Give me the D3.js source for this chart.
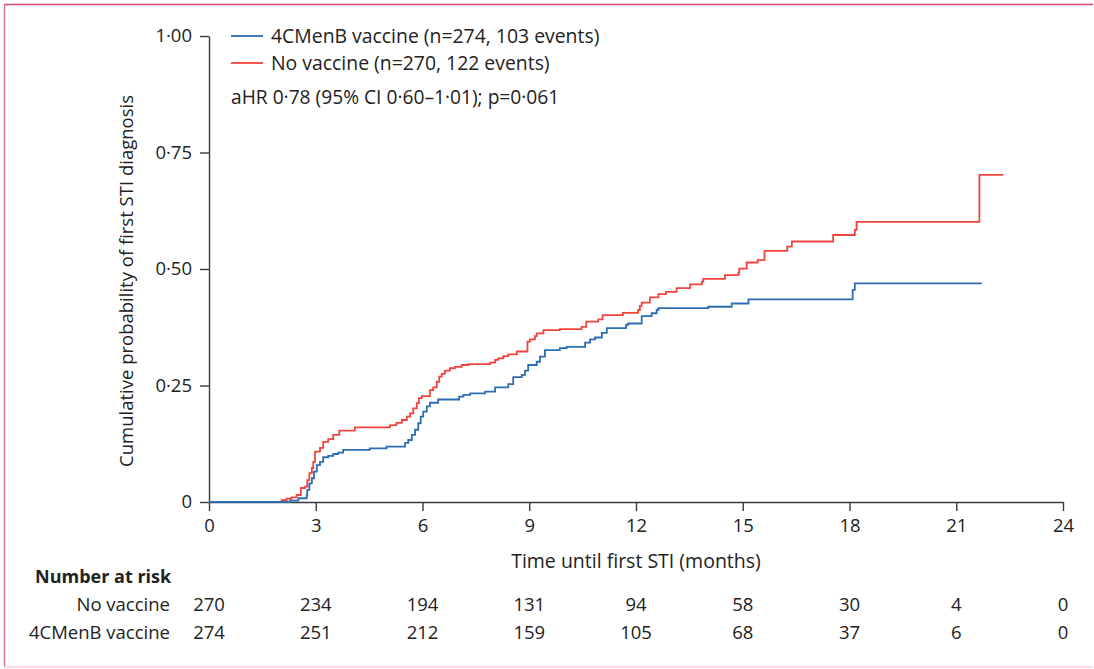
<!DOCTYPE html>
<html>
<head>
<meta charset="utf-8">
<script src="https://cdn.jsdelivr.net/npm/d3@7"></script>
<style>
  html, body { margin: 0; padding: 0; background: #fff; }
  svg { display: block; }
  text { font-family: "Open Sans", "Noto Sans", sans-serif; fill: #222; }
</style>
</head>
<body>
<svg id="chart" width="1094" height="669"></svg>
<script>
// Kaplan–Meier style cumulative incidence, months since enrolment
const noVaccineTimes = [0, 2.04, 2.18, 2.32, 2.46, 2.58, 2.70, 2.76, 2.82, 2.89, 2.93, 2.98, 3.12, 3.21, 3.35, 3.49, 3.66, 4.10, 5.09, 5.27, 5.42, 5.56, 5.65, 5.74, 5.84, 5.90, 5.98, 6.21, 6.30, 6.40, 6.47, 6.54, 6.63, 6.77, 6.91, 7.10, 7.29, 7.90, 8.04, 8.13, 8.27, 8.41, 8.65, 8.95, 9.02, 9.16, 9.21, 9.40, 9.86, 10.47, 10.60, 10.94, 11.06, 11.63, 12.06, 12.11, 12.16, 12.39, 12.63, 12.84, 13.14, 13.52, 13.85, 13.89, 14.50, 14.88, 14.90, 15.11, 15.42, 15.61, 16.25, 16.38, 17.54, 18.15, 18.20, 21.65, 22.32];
const noVaccineProb = [0, 0.004, 0.007, 0.010, 0.015, 0.030, 0.033, 0.047, 0.062, 0.073, 0.086, 0.108, 0.116, 0.129, 0.135, 0.144, 0.153, 0.160, 0.165, 0.170, 0.176, 0.183, 0.190, 0.201, 0.212, 0.223, 0.227, 0.240, 0.246, 0.258, 0.269, 0.275, 0.282, 0.287, 0.290, 0.294, 0.296, 0.299, 0.305, 0.308, 0.313, 0.317, 0.323, 0.344, 0.349, 0.356, 0.362, 0.369, 0.371, 0.376, 0.387, 0.392, 0.401, 0.406, 0.412, 0.421, 0.428, 0.439, 0.446, 0.451, 0.459, 0.467, 0.473, 0.479, 0.487, 0.492, 0.501, 0.514, 0.519, 0.539, 0.548, 0.559, 0.573, 0.584, 0.601, 0.702, 0.702];

const vaccineTimes = [0, 2.28, 2.51, 2.75, 2.76, 2.82, 2.89, 2.95, 3.03, 3.12, 3.21, 3.35, 3.49, 3.63, 3.77, 4.52, 4.99, 5.51, 5.60, 5.70, 5.79, 5.88, 5.95, 6.02, 6.12, 6.21, 6.44, 7.03, 7.15, 7.34, 7.76, 8.04, 8.41, 8.55, 8.79, 8.88, 8.97, 9.21, 9.30, 9.44, 9.86, 10.05, 10.57, 10.71, 10.85, 11.04, 11.18, 11.72, 11.78, 12.16, 12.44, 12.58, 12.63, 14.03, 14.69, 15.16, 18.09, 18.15, 21.72];
const vaccineProb = [0, 0.003, 0.008, 0.015, 0.026, 0.040, 0.051, 0.065, 0.079, 0.086, 0.096, 0.099, 0.103, 0.106, 0.112, 0.115, 0.119, 0.127, 0.133, 0.144, 0.155, 0.169, 0.183, 0.194, 0.205, 0.213, 0.220, 0.226, 0.230, 0.233, 0.237, 0.246, 0.253, 0.268, 0.273, 0.282, 0.294, 0.301, 0.312, 0.326, 0.330, 0.333, 0.342, 0.349, 0.353, 0.363, 0.373, 0.380, 0.383, 0.399, 0.405, 0.412, 0.416, 0.419, 0.426, 0.435, 0.455, 0.469, 0.469];

const xTicks = [0, 3, 6, 9, 12, 15, 18, 21, 24];
const yTicks = [0, 0.25, 0.5, 0.75, 1];
const yTickLabels = ["0", "0·25", "0·50", "0·75", "1·00"];

const riskGroups = ["No vaccine", "4CMenB vaccine"];
const riskNoVaccine = [270, 234, 194, 131, 94, 58, 30, 4, 0];
const riskVaccine = [274, 251, 212, 159, 105, 68, 37, 6, 0];

const legendLabels = ["4CMenB vaccine (n=274, 103 events)", "No vaccine (n=270, 122 events)"];
const statsText = "aHR 0·78 (95% CI 0·60–1·01); p=0·061";

const blue = "#2c6db3";
const red = "#f2443e";
const axisColor = "#3a3a3a";

const svg = d3.select("#chart");

// outer frame
svg.append("line").attr("x1", 4).attr("x2", 1093).attr("y1", 4.5).attr("y2", 4.5)
  .attr("stroke", "#cf4a6c").attr("stroke-width", 1.6);
svg.append("line").attr("x1", 4.5).attr("x2", 4.5).attr("y1", 4).attr("y2", 667)
  .attr("stroke", "#dc6f8c").attr("stroke-width", 1.4);
svg.append("line").attr("x1", 4).attr("x2", 1093).attr("y1", 667).attr("y2", 667)
  .attr("stroke", "#f6cdd9").attr("stroke-width", 1.4);

const x = d3.scaleLinear().domain([0, 24]).range([209, 1063]);
const y = d3.scaleLinear().domain([0, 1]).range([502, 36]);

// axes
const xAxis = d3.axisBottom(x).tickValues(xTicks).tickSize(9).tickPadding(8).tickSizeOuter(0);
const gx = svg.append("g").attr("transform", `translate(0,${y(0)})`).call(xAxis);
gx.select(".domain").attr("stroke", axisColor).attr("stroke-width", 1.4);
gx.selectAll(".tick line").attr("stroke", axisColor).attr("stroke-width", 1.4);
gx.selectAll(".tick text").attr("font-size", 18.5).attr("fill", "#222")
  .style("font-family", "'Open Sans', sans-serif");

const yAxis = d3.axisLeft(y).tickValues(yTicks).tickSize(9).tickPadding(8).tickSizeOuter(0)
  .tickFormat((d, i) => yTickLabels[i]);
const gy = svg.append("g").attr("transform", `translate(${x(0)},0)`).call(yAxis);
gy.select(".domain").attr("stroke", axisColor).attr("stroke-width", 1.4);
gy.selectAll(".tick line").attr("stroke", axisColor).attr("stroke-width", 1.4);
gy.selectAll(".tick text").attr("font-size", 18.5).attr("fill", "#222")
  .style("font-family", "'Open Sans', sans-serif");

// axis titles
svg.append("text")
  .attr("transform", `translate(133,281) rotate(-90)`)
  .attr("text-anchor", "middle").attr("font-size", 18.5)
  .text("Cumulative probability of first STI diagnosis");
svg.append("text")
  .attr("x", (x(0) + x(24)) / 2).attr("y", 568)
  .attr("text-anchor", "middle").attr("font-size", 19.5)
  .text("Time until first STI (months)");

// step curves
const stepLine = d3.line().x(d => x(d[0])).y(d => y(d[1])).curve(d3.curveStepAfter);
const series = [
  { t: noVaccineTimes, p: noVaccineProb, color: red },
  { t: vaccineTimes, p: vaccineProb, color: blue }
];
series.forEach(s => {
  svg.append("path")
    .datum(s.t.map((t, i) => [t, s.p[i]]))
    .attr("d", stepLine)
    .attr("fill", "none")
    .attr("stroke", s.color)
    .attr("stroke-width", 1.8);
});

// legend
const legendColors = [blue, red];
legendLabels.forEach((label, i) => {
  const ly = 36 + i * 27;
  svg.append("line").attr("x1", 231).attr("x2", 263).attr("y1", ly).attr("y2", ly)
    .attr("stroke", legendColors[i]).attr("stroke-width", 1.8);
  svg.append("text").attr("x", 271).attr("y", ly + 6.5).attr("font-size", 19.4).text(label);
});
svg.append("text").attr("x", 231).attr("y", 104).attr("font-size", 19.2).text(statsText);

// number at risk table
svg.append("text").attr("x", 35).attr("y", 583).attr("font-size", 18)
  .attr("font-weight", "bold").text("Number at risk");
const riskRows = [riskNoVaccine, riskVaccine];
riskRows.forEach((row, r) => {
  const ry = 611 + r * 28;
  svg.append("text").attr("x", 170).attr("y", ry).attr("text-anchor", "end")
    .attr("font-size", 18.5).text(riskGroups[r]);
  row.forEach((v, i) => {
    svg.append("text").attr("x", x(xTicks[i])).attr("y", ry)
      .attr("text-anchor", "middle").attr("font-size", 18.5).text(v);
  });
});
</script>
</body>
</html>
